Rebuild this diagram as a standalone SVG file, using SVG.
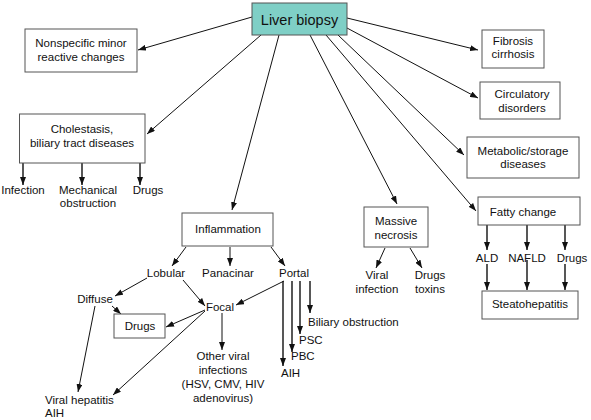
<svg xmlns="http://www.w3.org/2000/svg" width="591" height="420" viewBox="0 0 591 420">
<style>
text{font-family:"Liberation Sans",Arial,sans-serif;font-size:11.5px;fill:#111;text-anchor:middle}
.l{text-anchor:start}
.box{fill:#fff;stroke:#555;stroke-width:1}
.root{fill:#7fcfc6;stroke:#555;stroke-width:1}
.c line{stroke:#111;stroke-width:1;marker-end:url(#a)}
.c line.t{stroke-width:1.4}
</style>
<defs>
<marker id="a" markerUnits="userSpaceOnUse" markerWidth="8" markerHeight="6" refX="8" refY="3" orient="auto">
<path d="M0,0 L8,3 L0,6 z" fill="#111"/>
</marker>
</defs>
<rect width="591" height="420" fill="#fff"/>
<g class="c" id="connectors">
<line x1="252" y1="17" x2="138" y2="50"/>
<line x1="261" y1="35" x2="147" y2="134"/>
<line x1="279" y1="35" x2="232" y2="210"/>
<line x1="310" y1="35" x2="397" y2="204"/>
<line x1="326" y1="35" x2="476" y2="211"/>
<line x1="338" y1="35" x2="464" y2="155"/>
<line x1="347" y1="28" x2="478" y2="98"/>
<line x1="347" y1="18" x2="478" y2="50"/>
<line class="t" x1="23" y1="163" x2="23" y2="185"/>
<line class="t" x1="82" y1="163" x2="82" y2="185"/>
<line class="t" x1="140" y1="163" x2="140" y2="185"/>
<line x1="186" y1="247" x2="172" y2="266"/>
<line x1="230" y1="247" x2="230" y2="266"/>
<line x1="271" y1="247" x2="285" y2="266"/>
<line x1="147" y1="278" x2="115" y2="296"/>
<line x1="183" y1="280" x2="205" y2="306"/>
<line x1="112" y1="306" x2="121" y2="314"/>
<line x1="205" y1="310" x2="166" y2="327"/>
<line x1="205" y1="311" x2="113" y2="395"/>
<line x1="95" y1="306" x2="78" y2="392"/>
<line x1="222" y1="313" x2="222" y2="350"/>
<line x1="284" y1="281" x2="236" y2="305"/>
<line class="t" x1="283" y1="281" x2="283" y2="366"/>
<line class="t" x1="292" y1="281" x2="292" y2="352"/>
<line class="t" x1="300" y1="281" x2="300" y2="334"/>
<line class="t" x1="310" y1="281" x2="310" y2="313"/>
<line x1="385" y1="248" x2="376" y2="268"/>
<line x1="410" y1="248" x2="422" y2="268"/>
<line class="t" x1="487" y1="225" x2="487" y2="250"/>
<line class="t" x1="527" y1="225" x2="527" y2="250"/>
<line class="t" x1="565" y1="225" x2="565" y2="250"/>
<line class="t" x1="487" y1="264" x2="487" y2="290"/>
<line class="t" x1="527" y1="260" x2="527" y2="290"/>
<line class="t" x1="565" y1="264" x2="565" y2="290"/>
</g>
<g id="liver-biopsy">
<rect class="root" x="252" y="3" width="95" height="32"/>
<text x="299.5" y="25" style="font-size:14.5px">Liver biopsy</text>
</g>
<g id="nonspecific">
<rect class="box" x="25" y="29" width="112" height="43"/>
<text x="81" y="47">Nonspecific minor</text>
<text x="81" y="61">reactive changes</text>
</g>
<g id="cholestasis">
<rect class="box" x="19.5" y="114" width="125.5" height="49"/>
<text x="82" y="133">Cholestasis,</text>
<text x="82" y="147">biliary tract diseases</text>
</g>
<g id="infection"><text x="23" y="194">Infection</text></g>
<g id="mechanical"><text x="88" y="194">Mechanical</text><text x="88" y="207">obstruction</text></g>
<g id="drugs-chol"><text x="148" y="194">Drugs</text></g>
<g id="fibrosis">
<rect class="box" x="482" y="30" width="62" height="38"/>
<text x="513" y="45">Fibrosis</text>
<text x="513" y="58">cirrhosis</text>
</g>
<g id="circulatory">
<rect class="box" x="480" y="82" width="80" height="37"/>
<text x="522" y="98">Circulatory</text>
<text x="522" y="112">disorders</text>
</g>
<g id="metabolic">
<rect class="box" x="467" y="137" width="112" height="41"/>
<text x="523" y="155">Metabolic/storage</text>
<text x="523" y="168">diseases</text>
</g>
<g id="inflammation">
<rect class="box" x="182" y="213" width="91" height="33"/>
<text x="228" y="233">Inflammation</text>
</g>
<g id="lobular"><text x="166" y="277">Lobular</text></g>
<g id="panacinar"><text x="228" y="277">Panacinar</text></g>
<g id="portal"><text x="294" y="277">Portal</text></g>
<g id="diffuse"><text x="95" y="303">Diffuse</text></g>
<g id="focal"><text x="220" y="311">Focal</text></g>
<g id="drugs-infl">
<rect class="box" x="114" y="314" width="51" height="24"/>
<text x="140" y="330">Drugs</text>
</g>
<g id="other-viral">
<text x="223" y="360">Other viral</text>
<text x="223" y="374">infections</text>
<text x="223" y="388">(HSV, CMV, HIV</text>
<text x="223" y="402">adenovirus)</text>
</g>
<g id="viral-hepatitis">
<text class="l" x="45" y="404">Viral hepatitis</text>
<text class="l" x="45" y="417">AIH</text>
</g>
<g id="biliary-obstruction"><text class="l" x="308" y="326">Biliary obstruction</text></g>
<g id="psc"><text class="l" x="299" y="344">PSC</text></g>
<g id="pbc"><text class="l" x="291" y="360">PBC</text></g>
<g id="aih"><text class="l" x="281" y="377">AIH</text></g>
<g id="massive-necrosis">
<rect class="box" x="364" y="207" width="64" height="40"/>
<text x="396" y="225">Massive</text>
<text x="396" y="239">necrosis</text>
</g>
<g id="viral-infection"><text x="377" y="279">Viral</text><text x="377" y="293">infection</text></g>
<g id="drugs-toxins"><text x="430" y="279">Drugs</text><text x="430" y="293">toxins</text></g>
<g id="fatty-change">
<rect class="box" x="478" y="197" width="102" height="28"/>
<text x="523" y="216">Fatty change</text>
</g>
<g id="ald"><text x="487" y="262">ALD</text></g>
<g id="nafld"><text x="527" y="262">NAFLD</text></g>
<g id="drugs-fatty"><text x="572" y="262">Drugs</text></g>
<g id="steatohepatitis">
<rect class="box" x="482" y="291" width="96" height="28"/>
<text x="530" y="308">Steatohepatitis</text>
</g>
</svg>
